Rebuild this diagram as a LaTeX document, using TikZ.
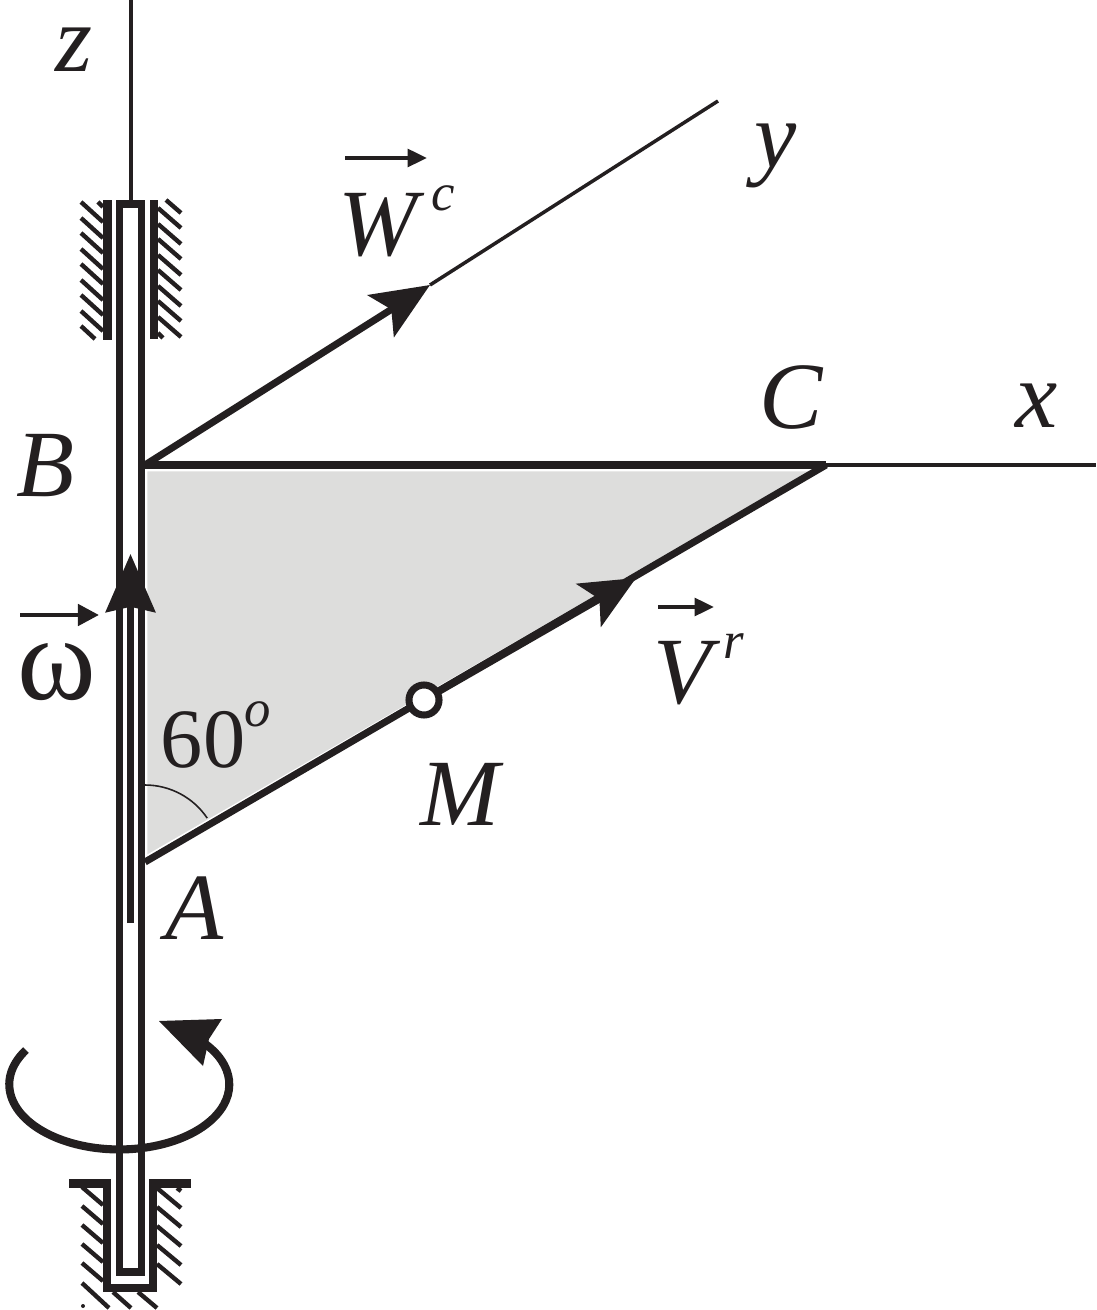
\documentclass[tikz,border=0pt]{standalone}
\usepackage{fontspec}
\setmainfont{Liberation Serif}
\usetikzlibrary{arrows.meta}
\definecolor{ink}{HTML}{231F20}
\definecolor{plate}{HTML}{DDDDDC}
\tikzset{
	wall/.style={ink, line width=2.3pt},
	rod/.style={ink, line width=2pt},
	axisline/.style={ink, line width=1pt},
	hatch/.style={ink, line width=1.25pt},
	lab/.style={text=ink, inner sep=0pt, font=\fontsize{27}{27}\selectfont\itshape},
	suplab/.style={text=ink, inner sep=0pt, font=\fontsize{15}{15}\selectfont\itshape},
	bigtip/.style={-{Stealth[length=16.5pt,width=14pt,inset=3.5pt]}},
	vectip/.style={-{Stealth[length=5.5pt,width=5pt,inset=0pt]}}
}

\begin{document}
\begin{tikzpicture}[x=0.01cm,y=-0.01cm]
	\useasboundingbox (0,0) rectangle (1096,1310);

	%Points
	\coordinate (B) at (145,465);
	\coordinate (C) at (826,465);
	\coordinate (A) at (145,862);
	\coordinate (M) at (424,700);
	\coordinate (xend) at (1096,465);
	\coordinate (yhead) at (430,285);
	\coordinate (yend) at (718,101);
	\coordinate (vhead) at (636,578);
	\coordinate (ztop) at (131,0);
	\coordinate (zbot) at (131,204);

	%Plate
	\filldraw[fill=plate, draw=white, line width=0.5pt] (146.5,470.5) -- (813,470.5) -- (146.5,856) -- cycle;

	%Axes
	\draw[axisline] (ztop) -- (zbot);
	\draw[axisline] (C) -- (xend);
	\draw[axisline] (yhead) -- (yend);
	\draw[rod, bigtip] (B) -- (yhead);
	\draw[rod] (B) -- (C);
	\draw[rod] (A) -- (C);
	\draw[rod, -{Stealth[length=15.5pt,width=14pt,inset=3.5pt]}] (M) -- (vhead);
	\node[circle, draw=ink, fill=white, line width=2pt, minimum size=0.3cm, inner sep=0pt] (pointM) at (M) {};

	%Shaft
	\draw[wall, line width=2.2pt] (119.5,204) rectangle (141.5,1272);
	\coordinate (wtail) at (130.5,923);
	\coordinate (wtip) at (130.5,554);
	\draw[rod, -{Stealth[length=16.5pt,width=14pt,inset=1.5pt]}] (wtail) -- (wtip);

	%Upper guide
	\fill[ink] (103,200) rectangle (112,340);
	\fill[ink] (150,200) rectangle (158,339);
	\draw[hatch] (98,202) -- (103,207);
	\foreach \y in {202,218,233,249,264,280,295,311}
		\draw[hatch] (81,\y) -- (103,\y+20);
	\draw[hatch] (81,326) -- (95,339);
	\draw[hatch] (166,200) -- (181,213);
	\foreach \y in {208,224,239,255,270,286,301,317}
		\draw[hatch] (158,\y) -- (181,\y+20);
	\draw[hatch] (158,333) -- (163,338);

	%Lower guide
	\draw[wall, miter limit=10] (69,1183.5) -- (107,1183.5) -- (107,1288) -- (153,1288) -- (153,1183.5) -- (191,1183.5);
	\foreach \y in {1187,1206,1225,1244,1263}
		\draw[hatch] (82,\y) -- (103,\y+18);
	\foreach \y in {1188,1207,1226,1245,1264}
		\draw[hatch] (157,\y) -- (181,\y+20);
	\draw[hatch] (177,1188) -- (181,1191);
	\draw[hatch] (82,1283) -- (109,1308);
	\draw[hatch] (113,1292) -- (131,1308);
	\draw[hatch] (138,1292) -- (157,1308);
	\fill[ink] (83,1306) circle (2);

	%Rotation
	\draw[wall] (26,1050) arc[start angle=148, end angle=400, x radius=110, y radius=-65];
	\fill[ink] (159,1021) -- (222,1019) -- (209,1039) -- (203,1066) -- cycle;

	%Angle
	\draw[ink, line width=0.45pt] (145,785) arc[start angle=90, end angle=34, x radius=75, y radius=-75];

	%Vector marks
	\coordinate (wa) at (345,158);
	\coordinate (wb) at (427,158);
	\draw[ink, line width=1.1pt, vectip] (wa) -- (wb);
	\coordinate (va) at (658,607);
	\coordinate (vb) at (714,607);
	\draw[ink, line width=1.1pt, vectip] (va) -- (vb);
	\coordinate (oa) at (20,615);
	\coordinate (ob) at (99,615);
	\draw[ink, line width=1.3pt, -{Stealth[length=6pt,width=6pt,inset=0pt]}] (oa) -- (ob);

	%Labels
	\node[lab] (labz) at (74,50) {z};
	\node[lab] (laby) at (776,156) {y};
	\node[lab] (labx) at (1037,406) {x};
	\node[lab] (labW) at (378,225) {W};
	\node[suplab] (labc) at (443,198) {c};
	\node[lab] (labCC) at (791,398) {C};
	\node[lab] (labB) at (46,466) {B};
	\node[lab] (labV) at (682,673) {V};
	\node[suplab] (labr) at (734,646) {r};
	\node[lab, font=\fontsize{34}{34}\selectfont] (labw) at (57,672) {ω};
	\node[lab, font=\fontsize{24}{24}\selectfont] (lab60) at (203,740) {60};
	\node[suplab] (labo) at (258,714) {o};
	\node[lab] (labM) at (460,794) {M};
	\node[lab] (labA) at (194,908) {A};
\end{tikzpicture}
\end{document}
